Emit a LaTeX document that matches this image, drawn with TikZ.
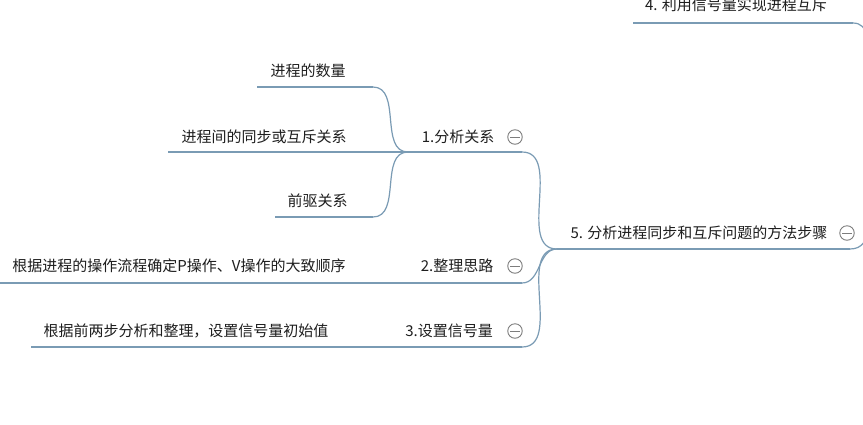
\documentclass[tikz,border=0pt]{standalone}
\usepackage{fontspec}
\setmainfont{Noto Sans CJK SC}
\usetikzlibrary{positioning}
\definecolor{branch}{RGB}{122,155,180}
\definecolor{txt}{RGB}{30,30,30}
\definecolor{foldgray}{RGB}{125,125,125}
\begin{document}
\begin{tikzpicture}[x=1pt,y=-1pt]
		\tikzstyle{topic} = [inner sep=0, text=txt, font=\fontsize{15}{18}\selectfont]
		\tikzstyle{collapse} = [shape=circle, minimum size=14.5pt, inner sep=0, draw=foldgray, line width=0.9pt, path picture={\draw [foldgray, line width=0.9pt] ([xshift=2.5pt]path picture bounding box.west) -- ([xshift=-2.5pt]path picture bounding box.east);}]
		\tikzstyle{invisible} = [outer sep=0,inner sep=0,minimum size=0]
		\tikzstyle{line} = [draw, branch, line width=1.2pt]
		\useasboundingbox (0,0) rectangle (863,424);
		\fill [white] (0,0) rectangle (863,424);
		\clip (0,0) rectangle (863,424);
		\begin{scope}
		\node [topic] (v1) at (736,5) {4. 利用信号量实现进程互斥};
		\node [topic] (v2) at (699,233) {5. 分析进程同步和互斥问题的方法步骤};
		\node [collapse] (v3) at (847,233) {};
		\node [topic] (v4) at (458,137) {1.分析关系};
		\node [collapse] (v5) at (515,137) {};
		\node [topic] (v6) at (457,266) {2.整理思路};
		\node [collapse] (v7) at (515,266) {};
		\node [topic] (v8) at (449,331) {3.设置信号量};
		\node [collapse] (v9) at (515,331) {};
		\node [topic] (v10) at (308,71) {进程的数量};
		\node [topic] (v11) at (264,137) {进程间的同步或互斥关系};
		\node [topic] (v12) at (317.5,201) {前驱关系};
		\node [topic] (v13) at (179,266) {根据进程的操作流程确定P操作、V操作的大致顺序};
		\node [topic] (v14) at (186,331) {根据前两步分析和整理，设置信号量初始值};
		\end{scope}
		\node [invisible] (v15) at (633,23) {};
		\node [invisible] (v16) at (853,23) {};
		\node [invisible] (v17) at (872,60) {};
		\draw [line] (v15) edge (v16);
		\draw [line,out=0,in=100] (v16) edge (v17);
		\node [invisible] (v18) at (557,249) {};
		\node [invisible] (v19) at (850,249) {};
		\node [invisible] (v20) at (872,190) {};
		\draw [line] (v18) edge (v19);
		\draw [line,out=0,in=-100] (v19) edge (v20);
		\node [invisible] (v21) at (408,152) {};
		\node [invisible] (v22) at (522,152) {};
		\draw [line] (v21) edge (v22);
		\draw [line,out=0,in=180] (v22) edge (v18);
		\node [invisible] (v23) at (168,152) {};
		\draw [line] (v23) edge (v21);
		\node [invisible] (v24) at (257,87) {};
		\node [invisible] (v25) at (373,87) {};
		\draw [line] (v24) edge (v25);
		\draw [line,out=0,in=180] (v25) edge (v21);
		\node [invisible] (v26) at (275,217) {};
		\node [invisible] (v27) at (373,217) {};
		\draw [line] (v26) edge (v27);
		\draw [line,out=0,in=180] (v27) edge (v21);
		\node [invisible] (v28) at (0,283) {};
		\node [invisible] (v29) at (408,283) {};
		\node [invisible] (v30) at (522,283) {};
		\draw [line] (v28) edge (v29);
		\draw [line] (v29) edge (v30);
		\draw [line,out=0,in=180] (v30) edge (v18);
		\node [invisible] (v31) at (31,347) {};
		\node [invisible] (v32) at (408,347) {};
		\node [invisible] (v33) at (522,347) {};
		\draw [line] (v31) edge (v32);
		\draw [line] (v32) edge (v33);
		\draw [line,out=0,in=180] (v33) edge (v18);
\end{tikzpicture}
\end{document}
